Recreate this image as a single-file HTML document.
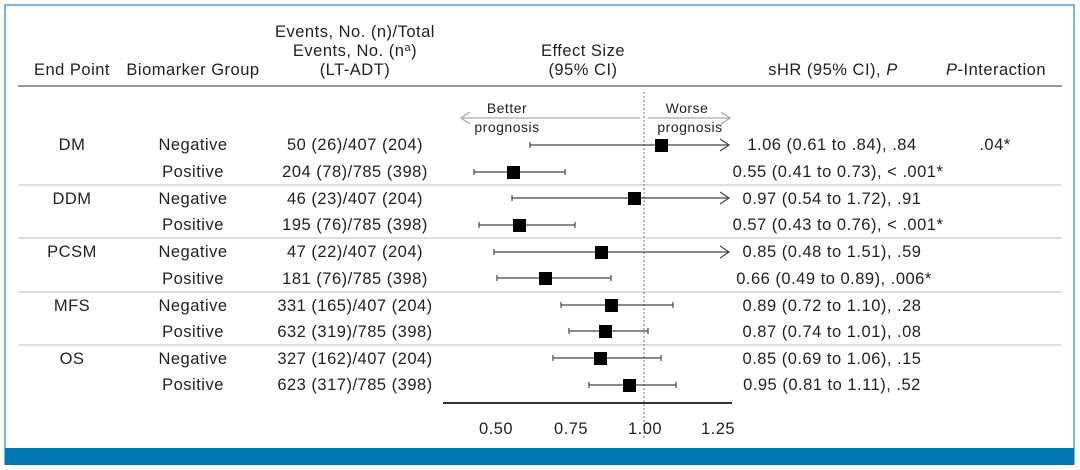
<!DOCTYPE html>
<html><head><meta charset="utf-8"><style>
body{margin:0;background:#fff}
svg{display:block}
text{font-family:"Liberation Sans",sans-serif;font-size:16.5px;letter-spacing:0.5px;fill:#231f20}
</style></head><body>
<svg width="1080" height="470" viewBox="0 0 1080 470">
<rect x="5" y="5" width="1069" height="459" fill="#fff" stroke="#4aa3d6" stroke-width="1.5"/>
<rect x="5" y="448" width="1069" height="17" fill="#0077b5"/>
<g text-anchor="middle">
<text x="72" y="75">End Point</text>
<text x="193" y="75">Biomarker Group</text>
<text x="355" y="37">Events, No. (n)/Total</text>
<text x="355" y="56">Events, No. (n<tspan dy="-5" font-size="11">a</tspan><tspan dy="5">)</tspan></text>
<text x="355" y="75">(LT-ADT)</text>
<text x="583" y="56">Effect Size</text>
<text x="583" y="75">(95% CI)</text>
<text x="833" y="75">sHR (95% CI), <tspan font-style="italic">P</tspan></text>
<text x="996" y="75"><tspan font-style="italic">P</tspan>-Interaction</text>
</g>
<line x1="18" y1="86" x2="1062" y2="86" stroke="#999" stroke-width="2"/>
<g stroke="#ccc" stroke-width="1.2">
<line x1="18" y1="185" x2="1062" y2="185"/>
<line x1="18" y1="238" x2="1062" y2="238"/>
<line x1="18" y1="292" x2="1062" y2="292"/>
<line x1="18" y1="345" x2="1062" y2="345"/>
</g>
<line x1="644" y1="92" x2="644" y2="440" stroke="#777" stroke-dasharray="2,2"/>
<g stroke="#aaa" stroke-width="1.3" fill="none">
<line x1="461" y1="118" x2="640" y2="118"/><polyline points="470,112 461,118 470,124"/>
<line x1="648" y1="118" x2="730" y2="118"/><polyline points="721,112 730,118 721,124"/>
</g>
<g text-anchor="middle">
<text x="507" y="113" style="font-size:14px">Better</text>
<text x="507" y="132" style="font-size:14px">prognosis</text>
<text x="687" y="113" style="font-size:14px">Worse</text>
<text x="690" y="132" style="font-size:14px">prognosis</text>
</g>
<g text-anchor="middle">
<text x="72" y="150">DM</text>
<text x="72" y="204">DDM</text>
<text x="72" y="257">PCSM</text>
<text x="72" y="311">MFS</text>
<text x="72" y="364">OS</text>
<text x="193" y="150">Negative</text><text x="193" y="177">Positive</text>
<text x="193" y="204">Negative</text><text x="193" y="230">Positive</text>
<text x="193" y="257">Negative</text><text x="193" y="284">Positive</text>
<text x="193" y="311">Negative</text><text x="193" y="337">Positive</text>
<text x="193" y="364">Negative</text><text x="193" y="390">Positive</text>
<text x="355" y="150">50 (26)/407 (204)</text>
<text x="355" y="177">204 (78)/785 (398)</text>
<text x="355" y="204">46 (23)/407 (204)</text>
<text x="355" y="230">195 (76)/785 (398)</text>
<text x="355" y="257">47 (22)/407 (204)</text>
<text x="355" y="284">181 (76)/785 (398)</text>
<text x="355" y="311">331 (165)/407 (204)</text>
<text x="355" y="337">632 (319)/785 (398)</text>
<text x="355" y="364">327 (162)/407 (204)</text>
<text x="355" y="390">623 (317)/785 (398)</text>
<text x="832" y="150">1.06 (0.61 to .84), .84</text>
<text x="838" y="177">0.55 (0.41 to 0.73), &lt; .001*</text>
<text x="832" y="204">0.97 (0.54 to 1.72), .91</text>
<text x="838" y="230">0.57 (0.43 to 0.76), &lt; .001*</text>
<text x="832" y="257">0.85 (0.48 to 1.51), .59</text>
<text x="834" y="284">0.66 (0.49 to 0.89), .006*</text>
<text x="832" y="311">0.89 (0.72 to 1.10), .28</text>
<text x="832" y="337">0.87 (0.74 to 1.01), .08</text>
<text x="832" y="364">0.85 (0.69 to 1.06), .15</text>
<text x="832" y="390">0.95 (0.81 to 1.11), .52</text>
<text x="995" y="150">.04*</text>
<text x="496" y="434">0.50</text>
<text x="571" y="434">0.75</text>
<text x="645" y="434">1.00</text>
<text x="718" y="434">1.25</text>
</g>
<g stroke="#444" stroke-width="1.2" fill="none">
<line x1="530" y1="145" x2="729" y2="145"/><polyline points="720,139 729,145 720,151"/><line x1="530" y1="142" x2="530" y2="148"/>
<line x1="474" y1="172" x2="565" y2="172"/><line x1="474" y1="169" x2="474" y2="175"/><line x1="565" y1="169" x2="565" y2="175"/>
<line x1="512" y1="198" x2="729" y2="198"/><polyline points="720,192 729,198 720,204"/><line x1="512" y1="195" x2="512" y2="201"/>
<line x1="479" y1="225" x2="575" y2="225"/><line x1="479" y1="222" x2="479" y2="228"/><line x1="575" y1="222" x2="575" y2="228"/>
<line x1="494" y1="252" x2="729" y2="252"/><polyline points="720,246 729,252 720,258"/><line x1="494" y1="249" x2="494" y2="255"/>
<line x1="497" y1="278" x2="611" y2="278"/><line x1="497" y1="275" x2="497" y2="281"/><line x1="611" y1="275" x2="611" y2="281"/>
<line x1="561" y1="305" x2="673" y2="305"/><line x1="561" y1="302" x2="561" y2="308"/><line x1="673" y1="302" x2="673" y2="308"/>
<line x1="569" y1="331" x2="648" y2="331"/><line x1="569" y1="328" x2="569" y2="334"/><line x1="648" y1="328" x2="648" y2="334"/>
<line x1="553" y1="358" x2="661" y2="358"/><line x1="553" y1="355" x2="553" y2="361"/><line x1="661" y1="355" x2="661" y2="361"/>
<line x1="589" y1="385" x2="676" y2="385"/><line x1="589" y1="382" x2="589" y2="388"/><line x1="676" y1="382" x2="676" y2="388"/>
</g>
<g fill="#000">
<rect x="655" y="139" width="13" height="13"/>
<rect x="507" y="166" width="13" height="13"/>
<rect x="628" y="192" width="13" height="13"/>
<rect x="513" y="219" width="13" height="13"/>
<rect x="595" y="246" width="13" height="13"/>
<rect x="539" y="272" width="13" height="13"/>
<rect x="605" y="299" width="13" height="13"/>
<rect x="599" y="325" width="13" height="13"/>
<rect x="594" y="352" width="13" height="13"/>
<rect x="623" y="379" width="13" height="13"/>
</g>
<line x1="443" y1="403" x2="732" y2="403" stroke="#333" stroke-width="2"/>
</svg>
</body></html>
